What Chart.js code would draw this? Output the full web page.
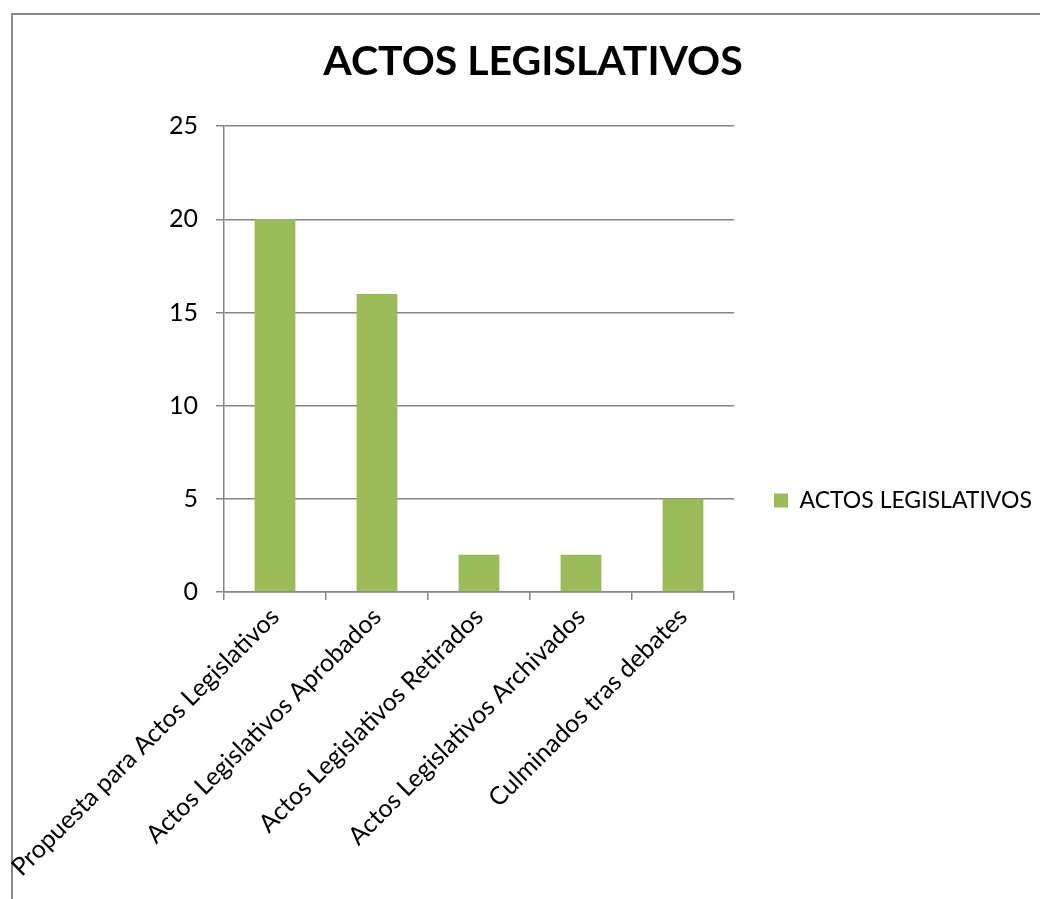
<!DOCTYPE html>
<html>
<head>
<meta charset="utf-8">
<script src="https://cdn.jsdelivr.net/npm/chart.js@4"></script>
<style>
  html, body { margin: 0; padding: 0; background: #fff; }
  #wrap { position: relative; width: 1040px; height: 899px; overflow: hidden; }
  #frame { position: absolute; left: 11px; top: 13px; width: 1100px; height: 1000px;
           border-top: 2px solid #8a8a8a; border-left: 2px solid #8a8a8a; }
  canvas { position: absolute; left: 0; top: 0; }
</style>
</head>
<body>
<div id="wrap">
  <div id="frame"></div>
  <canvas id="actosChart" width="1040" height="899"></canvas>
</div>
<script>
/* datos del grafico */
const categorias = [
  'Propuesta para Actos Legislativos',
  'Actos Legislativos Aprobados',
  'Actos Legislativos Retirados',
  'Actos Legislativos Archivados',
  'Culminados tras debates'
];
const valores = [20, 16, 2, 2, 5];
const serieNombre = 'ACTOS LEGISLATIVOS';
const tituloTexto = 'ACTOS LEGISLATIVOS';
const ejeY = { min: 0, max: 25, paso: 5 };

const fuente = 'Lato, "Open Sans", sans-serif';
const gris = '#868686';

// ajusta leyenda y titulo como en Excel
const ajustarCajas = {
  id: 'ajustarCajas',
  afterLayout(chart) {
    const l = chart.legend;
    const dx = 30, dy = 46;
    l.left += dx;
    l.right = chart.width;
    l.top += dy; l.bottom += dy;
    const t = chart.titleBlock;
    t.left += 35; t.right += 35;
  }
};

new Chart(document.getElementById('actosChart'), {
  type: 'bar',
  data: {
    labels: categorias,
    datasets: [{
      label: serieNombre,
      data: valores,
      backgroundColor: '#9BBB59',
      borderWidth: 0,
      categoryPercentage: 0.4,
      barPercentage: 1
    }]
  },
  options: {
    responsive: false,
    animation: false,
    layout: { padding: { left: 26, right: 70, top: 22, bottom: 12 } },
    plugins: {
      title: {
        display: true,
        text: tituloTexto,
        color: '#000',
        font: { family: fuente, size: 41, weight: 'bold' },
        padding: { top: 15, bottom: 40 }
      },
      legend: {
        position: 'right',
        labels: {
          color: '#000',
          font: { family: fuente, size: 23 },
          boxWidth: 14,
          boxHeight: 14,
          padding: 10
        }
      },
      tooltip: { enabled: false }
    },
    scales: {
      x: {
        grid: { display: true, drawOnChartArea: false, offset: true, color: gris, tickLength: 8, lineWidth: 1.5 },
        border: { color: gris, width: 1.5 },
        ticks: {
          color: '#000',
          font: { family: fuente, size: 25 },
          minRotation: 45,
          maxRotation: 45,
          padding: 2
        },
        afterFit: (s) => {
          s.height = 899 - 592 - 12;
          s.paddingLeft = 0;
          s.paddingRight = 0;
        }
      },
      y: {
        min: ejeY.min,
        max: ejeY.max,
        ticks: {
          stepSize: ejeY.paso,
          color: '#000',
          font: { family: fuente, size: 25 },
          padding: 18
        },
        grid: { color: gris, tickLength: 8, lineWidth: 1.5 },
        border: { color: gris, width: 1.5 },
        afterFit: (s) => { s.width = 224 - 26; }
      }
    }
  },
  plugins: [ajustarCajas]
});
</script>
</body>
</html>
